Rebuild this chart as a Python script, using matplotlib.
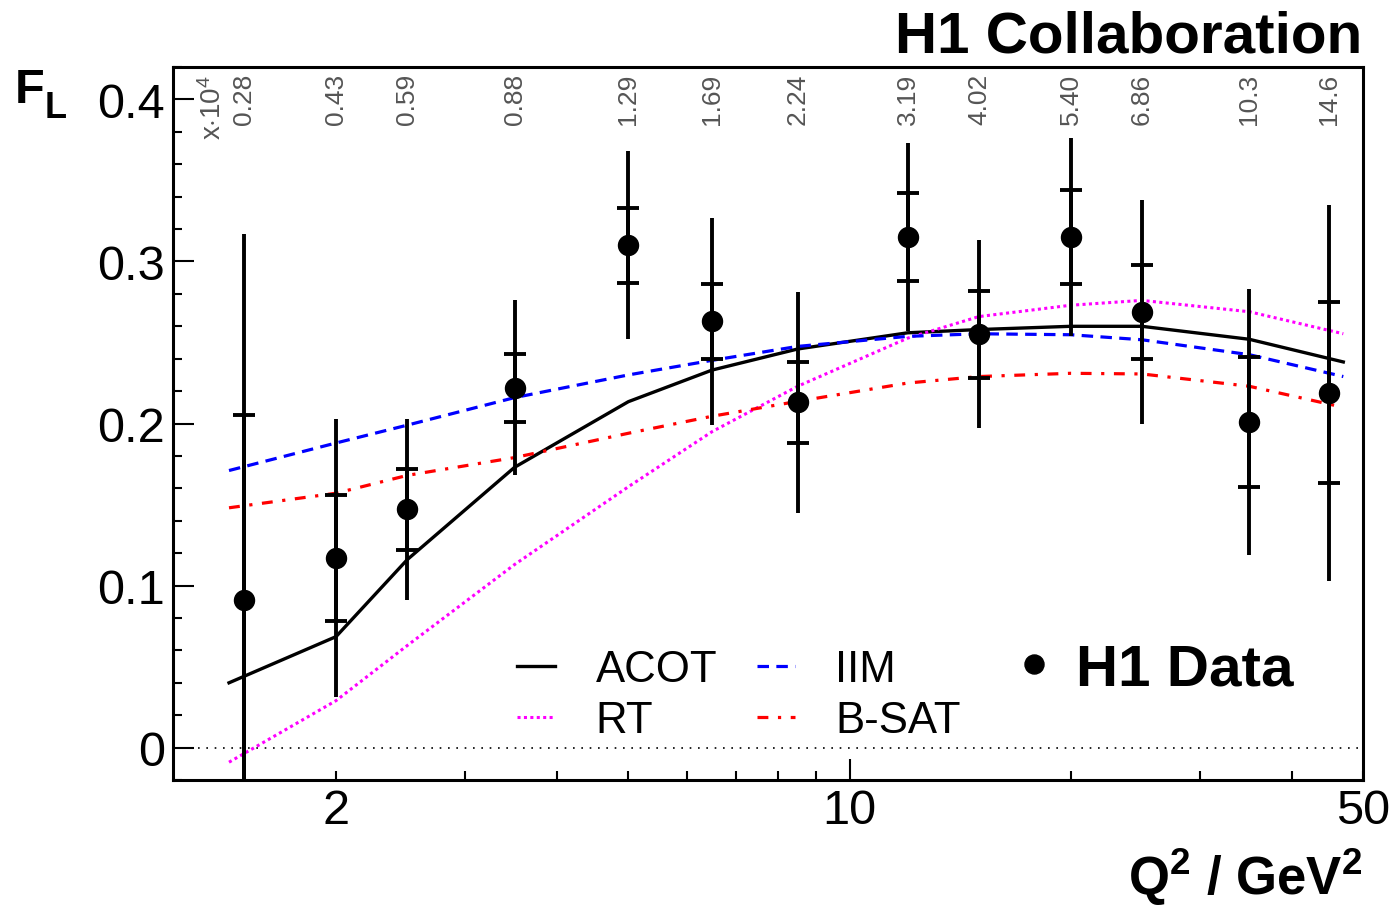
import numpy as np
import matplotlib
matplotlib.use('Agg')
import matplotlib.pyplot as plt
from matplotlib.ticker import FixedLocator, FuncFormatter, MultipleLocator
from matplotlib.lines import Line2D

plt.rcParams['font.family'] = ['Liberation Sans', 'DejaVu Sans']
plt.rcParams['mathtext.fontset'] = 'custom'
plt.rcParams['mathtext.rm'] = 'Liberation Sans'
plt.rcParams['mathtext.it'] = 'Liberation Sans:italic'
plt.rcParams['mathtext.bf'] = 'Liberation Sans:bold'

# --- H1 data ---
q2 = [1.5, 2, 2.5, 3.5, 5, 6.5, 8.5, 12, 15, 20, 25, 35, 45]
x_bj = ['0.28', '0.43', '0.59', '0.88', '1.29', '1.69', '2.24',
        '3.19', '4.02', '5.40', '6.86', '10.3', '14.6']
fl = [0.091, 0.117, 0.147, 0.222, 0.310, 0.263, 0.213,
      0.315, 0.255, 0.315, 0.269, 0.201, 0.219]
err_stat = [0.114, 0.039, 0.025, 0.021, 0.023, 0.023, 0.025,
            0.027, 0.027, 0.029, 0.029, 0.040, 0.056]
err_tot = [0.226, 0.086, 0.056, 0.054, 0.058, 0.064, 0.068,
           0.058, 0.058, 0.061, 0.069, 0.082, 0.116]

# --- model curves ---
q2_th = [1.43, 2, 2.5, 3.5, 5, 6.5, 8.5, 12, 15, 20, 25, 35, 47]
acot = [0.040, 0.0685, 0.116, 0.173, 0.2135, 0.233, 0.246,
        0.256, 0.258, 0.260, 0.260, 0.252, 0.238]
rt = [-0.009, 0.029, 0.063, 0.113, 0.161, 0.195, 0.223,
      0.2527, 0.266, 0.273, 0.276, 0.269, 0.2554]
iim = [0.171, 0.188, 0.199, 0.216, 0.230, 0.239, 0.2476,
       0.2538, 0.2554, 0.2548, 0.2517, 0.2425, 0.229]
bsat = [0.148, 0.157, 0.168, 0.179, 0.194, 0.2045, 0.2137,
        0.225, 0.229, 0.231, 0.2306, 0.223, 0.210]

fig = plt.figure(figsize=(13.99, 9.12), dpi=100)
ax = fig.add_axes([0.1237, 0.1436, 0.8506, 0.7818])

ax.axhline(0, color='black', lw=1.2, ls=(0, (1, 4)))

l_acot, = ax.plot(q2_th, acot, color='black', lw=2.4)
l_rt, = ax.plot(q2_th, rt, color='magenta', lw=2.2, ls=(0, (1, 1.1)))
l_iim, = ax.plot(q2_th, iim, color='blue', lw=2.3, ls=(0, (3.6, 2.3)))
l_bsat, = ax.plot(q2_th, bsat, color='red', lw=2.3, ls=(0, (3.4, 3, 1, 3)))

ax.errorbar(q2, fl, yerr=err_tot, fmt='none', ecolor='black', elinewidth=2.8, capsize=0)
ax.errorbar(q2, fl, yerr=err_stat, fmt='o', color='black', ms=14.4,
            elinewidth=2.8, capsize=8, capthick=2.8)

# x values on top
for q, xb in zip(q2, x_bj):
    ax.text(q, 0.92, xb, transform=ax.get_xaxis_transform(), rotation=90,
            ha='center', va='bottom', fontsize=19, color='#555555')
ax.text(0.0336, 0.899, r'x$\cdot$10$^{4}$', transform=ax.transAxes, rotation=90,
        ha='center', va='bottom', fontsize=20, color='#555555')

# legends
leg1 = ax.legend([l_acot, l_rt, l_iim, l_bsat], ['ACOT', 'RT', 'IIM', 'B-SAT'],
                 ncol=2, frameon=False, fontsize=31.5, handlelength=0.87,
                 handletextpad=0.92, columnspacing=0.9, labelspacing=0.225,
                 borderpad=0, borderaxespad=0, loc='upper left',
                 bbox_to_anchor=(0.2893, 0.1837))
ax.add_artist(leg1)
h1 = Line2D([], [], marker='o', ls='none', color='black', ms=13.7)
ax.legend([h1], ['H1 Data'], prop=dict(weight='bold', size=42), frameon=False,
          handlelength=0.4, handletextpad=0.52, borderpad=0, borderaxespad=0,
          loc='center left', bbox_to_anchor=(0.7136, 0.155))

# axes
ax.set_xscale('log')
ax.set_xlim(1.2, 50)
ax.set_ylim(-0.02, 0.42)
ax.xaxis.set_major_locator(FixedLocator([10]))
ax.xaxis.set_minor_locator(FixedLocator([2, 3, 4, 5, 6, 7, 8, 9, 20, 30, 40, 50]))
ax.xaxis.set_major_formatter(FuncFormatter(lambda v, p: '%g' % v))
ax.xaxis.set_minor_formatter(FuncFormatter(lambda v, p: '%g' % v if v in (2, 50) else ''))
ax.yaxis.set_major_locator(MultipleLocator(0.1))
ax.yaxis.set_minor_locator(MultipleLocator(0.02))
ax.yaxis.set_major_formatter(FuncFormatter(lambda v, p: '%g' % round(v, 2)))

ax.tick_params(which='both', direction='in', top=False, right=False,
               labelsize=35, width=1.5, pad=6)
ax.tick_params(which='major', length=15)
ax.tick_params(which='minor', length=6.5)
for s in ax.spines.values():
    s.set_linewidth(2.2)

fig.text(0.974, 0.9419, 'H1 Collaboration', ha='right', va='baseline',
         fontsize=42, fontweight='bold')
fig.text(0.0107, 0.887, 'F', ha='left', va='baseline', fontsize=35, fontweight='bold')
fig.text(0.032, 0.8706, 'L', ha='left', va='baseline', fontsize=26, fontweight='bold')
fig.text(0.974, 0.004, r'$\mathbf{Q^{2}\ /\ GeV^{2}}$', ha='right', va='bottom', fontsize=38)

fig.savefig('out.png', dpi=100)
